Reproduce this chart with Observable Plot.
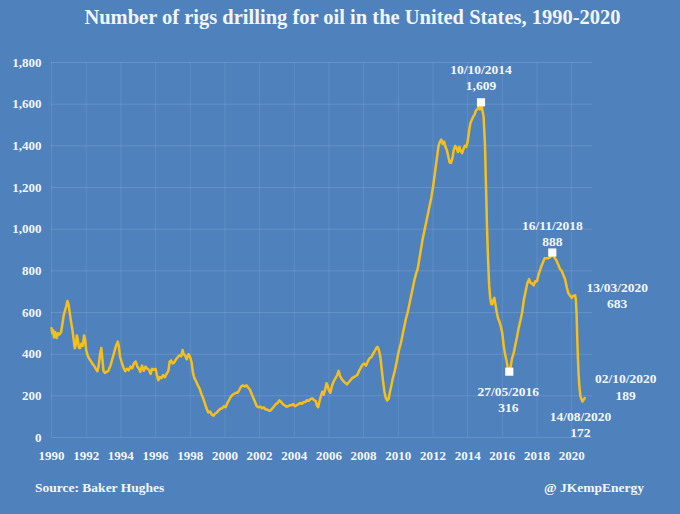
<!DOCTYPE html>
<html>
<head>
<meta charset="utf-8">
<script src="https://cdn.jsdelivr.net/npm/d3@7"></script>
<script src="https://cdn.jsdelivr.net/npm/@observablehq/plot@0.6"></script>
<style>
  html, body { margin: 0; padding: 0; background: #4f81bd; }
  #page { position: relative; width: 680px; height: 514px; background: #4f81bd; overflow: hidden;
          font-family: "Liberation Serif", "DejaVu Serif", serif; font-weight: bold; color: #f2f6fc; }
  #title { position: absolute; left: 0; top: 6px; width: 705px; text-align: center; font-size: 20.5px; }
  #chart { position: absolute; left: 0; top: 40px; }
  #source { position: absolute; left: 35px; top: 480px; font-size: 13.5px; }
  #handle { position: absolute; right: 36px; top: 480px; font-size: 13.5px; }
</style>
</head>
<body>
<div id="page">
  <div id="title">Number of rigs drilling for oil in the United States, 1990-2020</div>
  <div id="chart"></div>
  <div id="source">Source: Baker Hughes</div>
  <div id="handle">@ JKempEnergy</div>
</div>
<script>
// Decimal year of each observation
const years = [
1990.00,1990.05,1990.10,1990.15,1990.22,1990.30,1990.38,1990.46,1990.55,1990.62,1990.70,1990.78,1990.85,1990.92,1990.98,
1991.05,1991.12,1991.20,1991.28,1991.34,1991.40,1991.46,1991.52,1991.58,1991.65,1991.72,1991.80,1991.88,1991.94,
1992.00,1992.08,1992.16,1992.25,1992.35,1992.45,1992.55,1992.65,1992.72,1992.80,1992.87,1992.93,
1993.00,1993.08,1993.18,1993.28,1993.40,1993.52,1993.62,1993.72,1993.82,1993.88,1993.95,
1994.05,1994.15,1994.25,1994.35,1994.45,1994.55,1994.65,1994.75,1994.85,1994.95,
1995.05,1995.12,1995.22,1995.32,1995.42,1995.52,1995.62,1995.72,1995.80,1995.90,
1996.00,1996.08,1996.16,1996.24,1996.34,1996.44,1996.54,1996.64,1996.74,1996.82,1996.90,1996.98,
1997.08,1997.18,1997.28,1997.38,1997.48,1997.56,1997.62,1997.70,1997.80,1997.90,
1998.00,1998.08,1998.16,1998.24,1998.34,1998.44,1998.54,1998.64,1998.74,1998.84,1998.94,
1999.04,1999.14,1999.24,1999.34,1999.44,1999.54,1999.64,1999.74,1999.84,1999.94,
2000.04,2000.14,2000.24,2000.34,2000.44,2000.54,2000.64,2000.74,2000.84,2000.94,
2001.04,2001.14,2001.24,2001.34,2001.44,2001.54,2001.64,2001.74,2001.84,2001.94,
2002.04,2002.14,2002.24,2002.34,2002.44,2002.54,2002.64,2002.74,2002.84,2002.94,
2003.04,2003.14,2003.24,2003.34,2003.44,2003.54,2003.64,2003.74,2003.84,2003.94,
2004.04,2004.14,2004.24,2004.34,2004.44,2004.54,2004.64,2004.74,2004.84,2004.94,
2005.04,2005.14,2005.24,2005.30,2005.38,2005.46,2005.54,2005.62,2005.70,2005.78,2005.86,2005.92,
2006.00,2006.08,2006.18,2006.28,2006.38,2006.48,2006.56,2006.64,2006.74,2006.84,2006.94,
2007.04,2007.14,2007.24,2007.34,2007.44,2007.54,2007.64,2007.74,2007.84,2007.94,
2008.04,2008.14,2008.24,2008.34,2008.44,2008.54,2008.64,2008.74,2008.80,2008.88,2008.96,
2009.04,2009.12,2009.20,2009.28,2009.36,2009.44,2009.52,2009.60,2009.70,2009.80,2009.92,
2010.04,2010.14,2010.24,2010.34,2010.44,2010.54,2010.64,2010.74,2010.84,2010.94,
2011.04,2011.12,2011.20,2011.30,2011.40,2011.50,2011.60,2011.70,2011.80,2011.90,
2012.00,2012.08,2012.16,2012.24,2012.32,2012.40,2012.48,2012.56,2012.64,2012.72,2012.80,2012.88,2012.96,
2013.04,2013.12,2013.20,2013.28,2013.36,2013.44,2013.52,2013.60,2013.68,2013.76,2013.84,2013.92,
2014.00,2014.08,2014.16,2014.24,2014.32,2014.40,2014.48,2014.56,2014.64,2014.72,2014.77,2014.84,2014.92,
2015.00,2015.06,2015.12,2015.18,2015.24,2015.30,2015.36,2015.42,2015.48,2015.54,2015.60,2015.68,2015.76,2015.84,2015.92,
2016.00,2016.08,2016.16,2016.24,2016.32,2016.40,2016.48,2016.56,2016.64,2016.74,2016.84,2016.94,
2017.04,2017.14,2017.24,2017.34,2017.44,2017.54,2017.64,2017.72,2017.80,2017.90,
2018.00,2018.08,2018.16,2018.24,2018.34,2018.44,2018.54,2018.64,2018.74,2018.82,2018.88,2018.96,
2019.04,2019.12,2019.22,2019.32,2019.42,2019.52,2019.62,2019.72,2019.82,2019.92,
2020.00,2020.08,2020.16,2020.20,2020.24,2020.28,2020.32,2020.36,2020.40,2020.44,2020.50,2020.56,2020.62,2020.68,2020.75
];
// Oil rig count at each observation
const rigs = [
525,500,515,480,505,478,500,495,505,540,585,610,630,655,640,
600,560,520,470,428,445,490,470,430,430,450,440,490,470,
420,395,380,370,355,345,330,318,345,400,430,380,
320,310,315,320,345,380,410,440,460,440,390,
360,335,318,330,322,340,332,355,365,340,
330,315,345,320,340,330,325,305,330,325,
330,300,275,290,285,300,290,305,320,365,370,355,
360,375,385,395,390,420,400,395,375,400,
385,360,310,285,270,250,235,210,190,165,140,
120,125,110,105,115,120,130,138,140,150,
145,165,180,195,205,210,215,215,230,245,
250,245,250,240,230,210,190,170,150,145,
148,140,145,135,135,128,130,140,150,160,
165,178,172,160,155,148,150,155,155,160,
150,155,160,165,162,170,170,180,175,185,
188,180,175,155,145,175,200,220,205,230,260,250,
225,215,250,270,285,300,320,295,280,270,262,
255,265,275,285,290,295,300,320,335,350,
355,345,365,380,385,400,415,430,435,420,390,
330,270,220,190,178,185,220,250,290,320,370,
420,450,490,530,570,600,640,680,720,760,
790,810,850,900,950,990,1030,1070,1110,1150,
1200,1250,1300,1350,1400,1420,1430,1410,1420,1395,1380,1350,1320,
1318,1340,1380,1400,1390,1370,1395,1375,1365,1385,1400,1395,
1420,1470,1510,1525,1540,1550,1570,1575,1590,1575,1609,1575,1540,
1400,1200,1000,850,730,670,640,640,660,670,640,600,570,555,530,
500,440,400,370,330,316,340,380,400,440,480,525,
560,600,660,700,740,760,740,740,730,750,
750,780,800,820,840,860,860,860,865,870,888,870,
860,850,830,810,800,780,760,720,690,680,
670,680,680,683,660,600,480,380,300,250,200,185,172,180,189
];

// Annotations
const annDates  = ["10/10/2014", "27/05/2016", "16/11/2018", "13/03/2020", "14/08/2020", "02/10/2020"];
const annYears  = [2014.77, 2016.40, 2018.88, 2020.20, 2020.62, 2020.75];
const annValues = [1609, 316, 888, 683, 172, 189];
const annMarker = [true, true, true, false, false, false];

// Axis ticks
const xTicks = [1990,1992,1994,1996,1998,2000,2002,2004,2006,2008,2010,2012,2014,2016,2018,2020];
const yTicks = [0,200,400,600,800,1000,1200,1400,1600,1800];

const series = years.map((y, i) => ({year: y, rigs: rigs[i]}));
const ann = annDates.map((d, i) => ({date: d, year: annYears[i], value: annValues[i], marker: annMarker[i]}));

// label placement (pixel offsets) for each annotation, same order as annDates
const labelDx = [0, -1, 0, 42, -2, 41];
const labelDy = [-33, 20, -27, -8, 15, -19];
const annL = ann.map((a, i) => ({...a, dx: labelDx[i], dy: labelDy[i]}));

const fmt = d3.format(",");
const textColor = "#f2f6fc";
const fontStyle = {fontFamily: "Liberation Serif, DejaVu Serif, serif", fontWeight: "bold"};

const marks = [
  Plot.gridY(yTicks, {stroke: "#ffffff", strokeOpacity: 0.13, strokeWidth: 1}),
  Plot.gridX(xTicks, {stroke: "#ffffff", strokeOpacity: 0.10, strokeWidth: 1}),
  Plot.axisY(yTicks, {tickSize: 0, tickPadding: 10, tickFormat: fmt, fontSize: 13, fill: textColor, label: null, ...fontStyle}),
  Plot.axisX(xTicks, {tickSize: 0, tickPadding: 13, tickFormat: d => String(d), fontSize: 13, fill: textColor, label: null, ...fontStyle}),
  Plot.line(series, {x: "year", y: "rigs", stroke: "#f6bf1c", strokeWidth: 2.5, strokeLinejoin: "round"}),
  Plot.dot(ann.filter(a => a.marker), {x: "year", y: "value", symbol: "square", r: 4.6, fill: "#ffffff", stroke: "none"})
];
annL.forEach(a => {
  marks.push(Plot.text([a], {x: "year", y: "value", text: "date", dx: a.dx, dy: a.dy, fontSize: 13.5, fill: textColor, ...fontStyle}));
  marks.push(Plot.text([a], {x: "year", y: "value", text: d => fmt(d.value), dx: a.dx, dy: a.dy + 16.5, fontSize: 13.5, fill: textColor, ...fontStyle}));
});

const chart = Plot.plot({
  width: 680,
  height: 430,
  marginTop: 22,
  marginBottom: 33,
  marginLeft: 51,
  marginRight: 88,
  style: {background: "transparent", color: textColor, overflow: "visible"},
  x: {domain: [1990, 2021.2], label: null},
  y: {domain: [0, 1800], label: null},
  marks
});
document.getElementById("chart").appendChild(chart);
</script>
</body>
</html>
